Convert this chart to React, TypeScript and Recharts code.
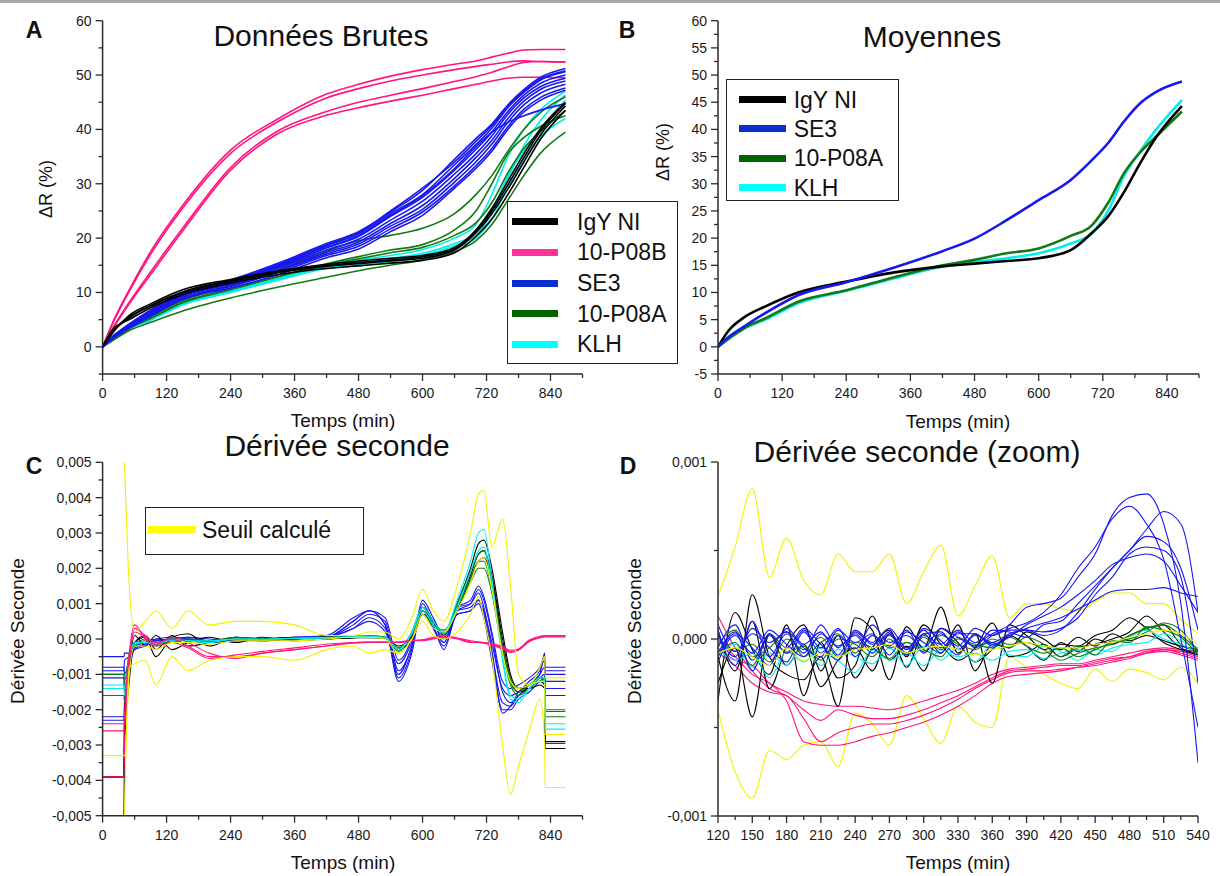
import React from "react";
import { LineChart, Line, XAxis, YAxis } from "recharts";

const FONT = '"Liberation Sans", Arial, Helvetica, sans-serif';
const AXIS = "#2b2b2b";

const BLACK = "#000000";
const PINK = "#ff1480";
const BLUE = "#1717ee";
const GREEN = "#137a13";
const CYAN = "#00eef0";
const YELLOW = "#f2f200";

// ---------- A / B : ΔR (%) vs time ----------
const timeAB = [0, 20, 50, 90, 150, 240, 330, 420, 480, 540, 600, 660, 700, 730, 760, 790, 820, 868];

const rawIgY1 = [0, 3, 5.5, 7.5, 10, 12, 13.7, 14.8, 15.3, 15.8, 16.3, 17.8, 21, 24.5, 29, 34, 38.8, 44.3];
const rawIgY2 = [0, 2.7, 5.8, 7.9, 10.5, 12.4, 14, 15.2, 15.8, 16.3, 16.8, 18.3, 21.5, 25.5, 30.5, 35.5, 40, 45];
const rawIgY3 = [0, 3.3, 5, 7.2, 9.6, 11.7, 13.3, 14.4, 14.9, 15.4, 15.9, 17.3, 20.3, 23.5, 28, 33, 38, 43.5];
const rawIgY4 = [0, 2.9, 5.3, 7.6, 10.1, 12.1, 13.8, 15, 15.5, 16, 16.6, 18, 21.3, 25, 29.8, 34.8, 39.5, 44.8];

const rawP08B1 = [0, 4.7, 10.5, 17.5, 26, 36.2, 42, 46.5, 48.3, 49.8, 51, 52, 52.6, 53.3, 54, 54.6, 54.7, 54.7];
const rawP08B2 = [0, 4.5, 10.2, 17, 25.5, 35.6, 41.5, 45.8, 47.5, 48.9, 50, 51, 51.6, 52, 52.4, 52.6, 52.5, 52.4];
const rawP08B3 = [0, 3.6, 8.2, 13.8, 21.8, 33, 39.8, 43.3, 45, 46.3, 47.5, 48.8, 49.7, 50.5, 51.5, 52.3, 52.5, 52.4];
const rawP08B4 = [0, 3.4, 7.9, 13.3, 21.3, 32.5, 39.3, 42.6, 44, 45.2, 46.3, 47.5, 48.3, 48.9, 49.4, 49.6, 49.6, 49.5];

const rawSE3_1 = [0, 2, 4.2, 6.8, 10, 12.3, 15.4, 19, 21.2, 24.8, 28.8, 34.5, 38.3, 41, 44.5, 47.3, 49.5, 51.2];
const rawSE3_2 = [0, 1.9, 4, 6.6, 9.8, 12, 15, 18.6, 20.8, 24.5, 28, 33.5, 37.2, 40.2, 44, 46.8, 49, 50.6];
const rawSE3_3 = [0, 1.8, 3.9, 6.4, 9.6, 11.9, 14.7, 18.2, 20.3, 24, 27.5, 32.5, 36.3, 39.5, 43.3, 46.3, 48.4, 50];
const rawSE3_4 = [0, 1.8, 3.8, 6.3, 9.5, 11.7, 14.5, 17.8, 19.8, 23.3, 26.8, 31.8, 35.5, 38.8, 42.8, 45.8, 47.8, 49.4];
const rawSE3_5 = [0, 1.7, 3.7, 6.1, 9.3, 11.5, 14.2, 17.4, 19.3, 22.7, 26, 31, 34.8, 38, 42, 45.2, 47.3, 48.9];
const rawSE3_6 = [0, 1.7, 3.6, 6, 9.1, 11.3, 14, 17.1, 18.9, 22.2, 25.3, 30.3, 34, 37.3, 41.3, 44.5, 46.6, 48.3];
const rawSE3_7 = [0, 1.6, 3.5, 5.8, 8.9, 11.1, 13.7, 16.8, 18.5, 21.7, 24.8, 29.6, 33.3, 36.5, 40.5, 43.7, 45.8, 47.6];
const rawSE3_8 = [0, 1.6, 3.4, 5.6, 8.7, 10.8, 13.3, 16.4, 18, 21.2, 24.2, 29.2, 32.8, 36, 40, 43.2, 45.3, 47.2];
const rawSE3_9 = [0, 1.8, 3.9, 6.4, 9.6, 11.9, 14.8, 18.3, 20.5, 24.2, 27.8, 32.8, 36.8, 39.5, 41.3, 42.5, 43.5, 44.7];
const rawSE3_10 = [0, 2, 4.1, 6.7, 9.9, 12.1, 15.2, 18.8, 21, 25, 29.2, 34, 37.8, 40.7, 44.3, 47, 49.2, 50.8];

const rawP08A1 = [0, 1.2, 3, 4.5, 6.6, 9, 11, 12.8, 14, 15, 16, 17.5, 19.5, 22.5, 27, 31.5, 35.5, 39.5];
const rawP08A2 = [0, 1.5, 3.6, 5.6, 8.5, 11.2, 14.2, 17.6, 19.5, 20.5, 21.8, 24.5, 28, 31.5, 36, 40, 43, 46];
const rawP08A3 = [0, 1.4, 3.4, 5.2, 8.1, 10.5, 12.9, 15, 16.2, 17.3, 18.3, 20.5, 22.8, 26.5, 32, 36.5, 39.5, 43.5];
const rawP08A4 = [0, 1.4, 3.5, 5.3, 8.2, 10.6, 13, 15.3, 16.6, 17.8, 18.8, 21.5, 25, 30, 35.5, 38.5, 40.5, 42.5];

const rawKLH1 = [0, 1.5, 3.4, 5.1, 8, 10.3, 12.6, 14.8, 15.6, 16.3, 17.2, 19, 20.9, 25, 31.5, 36, 40, 45.4];
const rawKLH2 = [0, 1.4, 3.3, 4.9, 7.7, 10, 12.3, 14.4, 15.1, 15.7, 16.5, 18.2, 20, 23.5, 29.5, 34.5, 38.5, 42];
const rawKLH3 = [0, 1.5, 3.5, 5.3, 8.2, 10.6, 12.9, 15.1, 16, 16.8, 17.9, 20, 22.5, 28, 35, 40, 43.5, 47];
const rawKLH4 = [0, 1.5, 3.4, 5, 7.9, 10.2, 12.5, 14.6, 15.4, 16, 16.9, 18.6, 20.5, 24.5, 31, 37, 41.5, 46.3];

const meanIgY = [0, 3, 5.5, 7.5, 10, 12, 13.7, 14.8, 15.3, 15.8, 16.3, 17.8, 21, 24, 28.5, 33.8, 38.6, 44.3];
const meanSE3 = [0, 1.8, 3.8, 6.3, 9.5, 11.9, 14.6, 17.6, 19.9, 23.3, 27, 30.7, 34.4, 37.5, 41.5, 44.8, 46.9, 48.8];
const meanP08A = [0, 1.5, 3.5, 5.3, 8.3, 10.4, 12.8, 15, 16, 17.2, 18.1, 20.4, 22.4, 26.5, 32, 35.8, 38.7, 43.3];
const meanKLH = [0, 1.5, 3.4, 5.1, 8, 10.3, 12.6, 14.8, 15.6, 16.3, 17.2, 19, 20.9, 25, 31.5, 36, 40, 45.4];

// ---------- C : second derivative (values in 1e-4) ----------
const timeC = [0, 40, 41, 50, 60, 80, 100, 130, 160, 200, 250, 300, 360, 420, 470, 500, 530, 555, 580, 600, 620, 640, 665, 690, 705, 715, 730, 750, 765, 780, 800, 820, 829, 830, 868];

const cIgY1 = [-50, -50, -31, -12, -1, 0.5, -5, 0.5, 1.5, -2, 0.5, -0.5, 0, 0.5, 0.5, 0.5, 0.2, -3, 0, 8, 5, 1, 10, 20, 27, 28, 20, 2, -10, -14, -14, -13, -14, -29, -29];
const cIgY2 = [-39, -39, -25, -8, 1, -2, 1, -3, -1, 0.5, -1, 0.5, -0.5, 0, 0.3, 0.6, 0.3, -3, 1, 7, 4, 2, 9, 18, 24, 25, 18, 0, -11, -14, -13, -12, -13, -29.5, -29.5];
const cIgY3 = [-39, -39, -20, -6, -1, 1, -3, 1, -2, -1, 0.5, 0, 0.5, 0, 0.4, 0.4, 0.2, -2, 0.5, 7, 5, 1.5, 8, 17, 22, 23, 17, -2, -12, -15, -14, -12, -12, -31, -31];

const cP08B1 = [-24, -24, -24, -6, 3, 1, -1, 0, -2, -5, -5, -4, -3, -2, -1, -1, -1, -1, -0.5, -0.5, 0, 0.5, 0, -1, -1, -1, -1.5, -2.5, -3.5, -3, -0.5, 0.5, 0.8, 0.8, 0.8];
const cP08B2 = [-26, -26, -22, -4, 4, 0, -2, -1, -2.5, -5.5, -4.5, -3.5, -2.5, -1.5, -1, -0.8, -0.8, -1, -0.5, -0.3, 0.2, 0.8, 0.2, -0.8, -1, -1.2, -1.8, -2.8, -3.8, -3.2, -0.8, 0.3, 0.6, 0.6, 0.6];
const cP08B3 = [-39, -39, -30, -7, 2, 0.5, -1.5, 0.5, -1, -4, -5.5, -4, -3, -2, -1.2, -1, -1, -0.8, -0.4, -0.2, 0.5, 1, 0.3, -0.5, -0.8, -1, -1.3, -2.2, -3.2, -2.8, -0.3, 0.8, 1, 1, 1];

const cP08A1 = [-10, -10, -15, -5, -1, -1, -2, 0, -0.5, -1, 0, 0, 0, 0.5, 0.8, 0.8, 0.5, -3, 2, 8, 4, 2, 9, 17, 22, 22, 14, -3, -12, -15, -13, -11, -12, -20, -20];
const cP08A2 = [-16, -16, -18, -6, -2, 0, -1, -1, 0, -0.5, 0.5, -0.3, 0.3, 0.5, 0.6, 0.9, 0.6, -2.5, 1.5, 7, 4, 2.5, 8, 16, 20, 20, 13, -4, -13, -16, -14, -12, -12, -22, -22];
const cP08A3 = [-10, -10, -12, -4, -1, -0.5, -1.5, 0.5, -0.5, -0.8, 0.3, 0.2, 0.2, 0.3, 0.7, 0.7, 0.4, -3.5, 2, 9, 5, 2, 10, 19, 24, 25, 16, -2, -11, -14, -13, -11, -11, -20.5, -20.5];

const cKLH1 = [-14, -14, -16, -5, -1.5, -1, -1, -0.5, -0.5, -0.5, 0, 0, 0.2, 0.4, 0.6, 0.6, 0.4, -3, 2, 9, 5, 2, 11, 22, 30, 31, 17, -6, -17, -18, -14, -11, -11, -24, -24];
const cKLH2 = [-13, -13, -14, -5, -1, -1, -1.5, 0, -0.5, -1, 0, -0.2, 0.2, 0.3, 0.5, 0.7, 0.4, -3, 1.5, 8, 4, 1.5, 9, 19, 25, 26, 15, -5, -16, -17, -14, -12, -12, -25.5, -25.5];

const cSE3_1 = [-5, -5, -4, -4, -2, -1, 0, -1, 0.5, -0.5, -0.3, -0.2, 0.3, 0.5, 4, 7, 5, -9, -2, 9, 5, -1, 8, 9, 11, 8, -1, -14, -16, -15, -12, -9, -6, -8, -8];
const cSE3_2 = [-8, -8, -10, -6, -3, -1.5, -0.5, 0, -0.5, -1, -0.5, -0.5, 0, 0.5, 5, 8, 4, -12, -4, 10, 4, -3, 8, 10, 14, 11, 1, -15, -18, -16, -13, -10, -8, -10, -10];
const cSE3_3 = [-11, -11, -15, -7, -2, -1, -1, -0.5, 0, -0.5, 0, 0, 0.5, 0.8, 3, 6, 3, -10, -2, 8, 3, -2, 7, 8, 11, 7, -4, -18, -19, -16, -14, -11, -10, -12, -12];
const cSE3_4 = [-22, -22, -22, -9, -3, -2, 0, 0.5, 0, -1, -0.5, 0, 0, 0.5, 3, 5, 2, -7, -1, 7, 3, -1, 9, 11, 15, 12, 2, -12, -14, -13, -11, -8, -5, -14, -14];
const cSE3_5 = [-23, -23, -18, -8, -2, -1, -0.5, 0, 0.5, 0, -0.5, -0.3, 0.2, 0.5, 5, 8, 6, -6, 0, 9, 5, 0, 7, 8, 10, 6, -6, -20, -20, -17, -15, -12, -11, -16, -16];
const cSE3_6 = [-9, -9, -6, -5, -2.5, -1.5, -0.5, -1, 0, -0.5, -0.2, 0, 0.5, 1, 6, 8, 4, -11, -3, 11, 6, 1, 9, 10, 13, 9, -3, -21, -19, -15, -13, -10, -4, -9, -9];

const cSeuilMean = [-33, -33, -33, -10, -2, -2, -3, -1, -1, -1.5, -0.5, -0.5, -0.5, 0, 0.5, 0.5, 0, -4, 0, 7, 3, 2, 8, 16, 22, 23, 14, -4, -12, -14, -13, -12, -12, -27, -27];
const cSeuilHigh = [null, null, 50, 15, 2, 5, 8, 3, 8, 4, 5, 5, 4, 1, 1, 2, 2, 0, 6, 14, 8, 5, 15, 30, 41, 42, 26, 34, 15, -10, -13, -8, -5, -11, -11];
const cSeuilLow = [null, null, -50, -8, -7, -6, -13, -5, -9, -6, -5, -5, -6, -3, -2, -4, -3, -4, 0, 5, 1, 0, 2, 7, 12, 6, -5, -30, -44, -36, -26, -17, -29, -42, -42];

// ---------- D : second derivative zoom (values in 1e-4) ----------
const timeD = [120, 135, 150, 165, 180, 195, 210, 225, 240, 255, 270, 285, 300, 315, 330, 345, 360, 375, 390, 405, 420, 435, 450, 465, 480, 495, 510, 525, 540];

const dSeuilHigh = [2.4, 5.2, 8.5, 3.5, 5.7, 3.3, 2.5, 4.8, 3.8, 3.8, 4.8, 2, 3.8, 5.3, 1.3, 3, 4.7, 1.2, 2, 2, 1.7, 1.6, 2.1, 2.6, 2.6, 2, 2, 1.1, 0.3];
const dSeuilLow = [-4, -7.5, -9, -6.3, -6.8, -6, -5.8, -7.2, -4.2, -4.8, -6, -3.2, -4.5, -5.9, -3.8, -4.7, -5, -1, -1.6, -2, -2.5, -2.8, -1.7, -2.4, -1.7, -1.9, -2.3, -1.6, -2.5];
const dSeuilMean = [-0.8, -0.5, -1, -1.5, -0.5, -1.2, -0.8, -1, -0.6, -0.5, -0.3, -0.8, -0.5, -0.4, -0.6, -0.9, -0.6, -0.4, -0.2, -0.4, -0.5, -0.5, -0.3, -0.2, 0.1, 0.3, 0.5, 0.3, -0.3];

const dP08B1 = [0, -1, -2, -2.5, -3.5, -5.8, -6, -6, -5.8, -5.5, -5.3, -5, -4.7, -4.3, -3.8, -3.2, -2.5, -2.1, -2, -1.9, -1.8, -1.6, -1.5, -1.3, -1.1, -0.8, -0.6, -0.7, -1];
const dP08B2 = [1.3, -0.5, -1.8, -2.8, -3.2, -4, -4.6, -4, -4.3, -4.5, -4.5, -4.3, -4, -3.6, -3.2, -2.7, -2.2, -1.8, -1.7, -1.6, -1.5, -1.5, -1.3, -1.1, -1, -0.8, -0.7, -0.9, -1.2];
const dP08B3 = [-0.5, -1.2, -1.5, -2.5, -3, -3.5, -3.7, -3.8, -3.8, -3.9, -4, -3.8, -3.5, -3.2, -2.9, -2.5, -2, -1.7, -1.6, -1.5, -1.4, -1.4, -1.2, -1, -0.8, -0.6, -0.5, -0.6, -0.7];
const dP08B4 = [-0.8, -1.5, -2.5, -3, -3.2, -4.5, -5.8, -5.3, -5, -4.8, -4.8, -4.6, -4.3, -3.9, -3.4, -2.8, -2.3, -1.9, -1.8, -1.8, -1.7, -1.6, -1.4, -1.2, -1, -0.7, -0.6, -0.8, -1.1];

const dIgY1 = [-1, -3.5, 2.5, -1, -2, -2.3, -1, -3.8, 1.2, 0.5, -2.3, 0.7, -0.5, 1.8, -0.8, 0.3, -2.5, 0.8, 0.2, -0.6, -0.3, -0.4, 0.2, 0.5, 1.2, 0.6, -0.2, -0.6, -0.9];
const dIgY2 = [-2.5, -0.5, -4.4, 0.3, -1.5, -0.3, -2.7, -1.2, -0.5, -1.8, 0.3, -1, 0.8, -0.3, -1.2, -0.5, 0.9, -1, -0.8, -0.3, -1, -0.5, -0.3, 0, 0.4, 1.3, 0.4, -0.5, -0.8];
const dIgY3 = [-3.5, 1.5, -0.6, -2, 0.8, -3.2, -0.2, -2.2, -1.5, 1.3, -1.2, -0.4, -1.8, 0.6, -0.2, -1.3, -0.6, 0.2, -0.4, -1.2, -0.2, -0.7, 0, -0.3, 0.2, 0.6, 0.8, -0.3, -0.7];
const dIgY4 = [0.5, -1.8, 1, -2.8, -0.4, 0.8, -1.8, 0.2, -2.2, -0.5, 0.5, -1.6, 0.3, -0.8, 0.8, -1.8, -0.3, -0.5, 0.4, 0, -0.6, 0.1, -0.4, 0.3, -0.1, 0.2, -0.1, -0.4, -0.6];

const dKLH1 = [-0.5, -1.2, -0.8, -2.2, -0.7, -1.3, -0.5, -1.2, -1.9, -0.6, -1.2, -0.8, -1.5, -0.6, -1, -0.8, -1.2, -0.7, -0.6, -1.1, -0.8, -0.6, -0.9, -0.5, -0.3, -0.2, 0.3, -0.1, -0.5];
const dKLH2 = [-1, -0.3, -1.6, -0.8, -1.5, -0.4, -1.5, -0.6, -1, -1.4, -0.5, -1.5, -0.4, -1.2, -0.5, -1.3, -0.3, -0.9, -1, -0.4, -0.7, -1.2, -0.6, -0.7, 0.1, 0.5, 0, -0.3, -0.8];

const dP08A1 = [-0.3, 0.5, -1, -0.5, 0.4, -1, -0.2, 0.3, -0.8, 0.2, -0.5, -0.2, -0.7, 0.2, -0.3, -0.6, 0, -0.3, -0.2, -0.6, -1.2, -0.8, -0.5, -0.3, 0.2, 0.6, 0.8, 0.2, -0.6];
const dP08A2 = [-0.8, -0.2, -1.5, 0.3, -0.8, -0.4, -1.2, 0, -0.3, -1, 0, -0.9, 0.1, -0.6, 0, -0.3, -0.5, 0.1, -0.4, -0.8, -0.5, -1, -0.6, -0.2, 0, 0.4, 0.9, 0.5, -0.7];
const dP08A3 = [0.2, -0.7, -0.3, -1.3, 0, -0.6, 0.1, -1, -0.2, -0.5, -1.1, -0.2, -0.6, -1, 0.1, -0.4, -0.2, -0.5, 0.1, -0.3, -1, -0.4, -0.9, -0.1, -0.2, 0.7, 0.5, 0.1, -0.9];

const dSE3_1 = [0.5, -1.5, 1, -1, 0.3, -0.8, 0.8, -0.5, 0.3, -0.6, 0.4, -0.9, 0.2, -0.3, 0.5, -0.2, 0.3, 0.8, 1.8, 2, 2.3, 3.5, 4.8, 7, 8, 8.2, 6.5, 2, -7];
const dSE3_2 = [-0.5, 0.8, -1.2, 0.2, -0.8, 0.5, -0.5, 0.6, -1, 0.2, -0.4, 0.5, -0.8, 0.3, -0.4, 0.6, 0.2, 0.6, 0.9, 1.5, 2.5, 4, 5.2, 6.8, 7.5, 6.5, 4.5, 0, -5];
const dSE3_3 = [-1, 0.3, -0.5, -1.5, 0.6, -0.3, 0.4, -0.9, 0.5, -0.2, 0.6, -0.5, 0.3, 0.4, -0.6, 0.2, -0.2, 0.3, 0.5, 0.2, 0.5, 1.5, 2.8, 4, 5, 6.2, 7.2, 6.5, 1.5];
const dSE3_4 = [0.8, -0.7, 0.3, -0.5, -1.3, 0.4, -0.8, 0.2, -0.6, 0.8, -0.2, 0.2, -0.5, 0.6, 0.1, -0.4, 0.5, 0.4, 0.1, 0.8, 1, 2, 3, 4, 5, 5.8, 5.5, 4, 0.5];
const dSE3_5 = [-1.3, 0.2, -0.8, 0.5, -0.3, -1, 0.3, -0.4, 0.2, -0.8, 0.3, -0.6, 0.5, -0.5, 0.3, 0.3, -0.4, 0.2, 0.6, 0.9, 1.2, 1.7, 2.2, 2.7, 2.8, 2.8, 2.9, 2.6, 2.4];
const dSE3_6 = [0.2, -1, 0.6, -0.2, 0.4, -0.5, -1, 0.5, -0.2, 0.3, -0.9, 0.4, -0.2, -0.8, 0.4, -0.5, 0.2, 0.5, 0.5, 0.4, 0.6, 1.2, 2.5, 3.5, 4.8, 5.2, 5, 3.5, -2.5];
const dSE3_7 = [-0.8, 0.4, -1.8, 0.3, -0.5, 0.6, -0.3, -1.2, 0.4, -0.3, 0.2, -0.8, 0.6, -0.1, -0.9, 0.3, -0.3, 0.1, 0.8, 1.3, 1.8, 2.5, 3.3, 4.2, 4.6, 4.8, 4.4, 3, 1.5];

// ---------- axes ----------
const xMajorLong = [0, 120, 240, 360, 480, 600, 720, 840];
const xMinorLong = [60, 180, 300, 420, 540, 660, 780, 900];
const yMajorA = [0, 10, 20, 30, 40, 50, 60];
const yMinorA = [-5, 5, 15, 25, 35, 45, 55];
const yMajorB = [-5, 0, 5, 10, 15, 20, 25, 30, 35, 40, 45, 50, 55, 60];
const yMinorB = [-2.5, 2.5, 7.5, 12.5, 17.5, 22.5, 27.5, 32.5, 37.5, 42.5, 47.5, 52.5, 57.5];
const yMajorC = [-0.005, -0.004, -0.003, -0.002, -0.001, 0, 0.001, 0.002, 0.003, 0.004, 0.005];
const yMinorC = [-0.0045, -0.0035, -0.0025, -0.0015, -0.0005, 0.0005, 0.0015, 0.0025, 0.0035, 0.0045];
const xMajorD = [120, 150, 180, 210, 240, 270, 300, 330, 360, 390, 420, 450, 480, 510, 540];
const xMinorD = [135, 165, 195, 225, 255, 285, 315, 345, 375, 405, 435, 465, 495, 525];
const yMajorD = [-0.001, 0, 0.001];
const yMinorD = [-0.0005, 0.0005];

type Series = { key: string; color: string; values: (number | null)[] };

const E4 = 1e-4;

function buildRows(times: number[], series: Series[], scale = 1) {
  return times.map((t, i) => {
    const row: Record<string, number | null> = { t };
    series.forEach((s) => {
      const v = s.values[i];
      row[s.key] = v == null ? null : v * scale;
    });
    return row;
  });
}

const seriesA: Series[] = [
  { key: "p1", color: PINK, values: rawP08B1 },
  { key: "p2", color: PINK, values: rawP08B2 },
  { key: "p3", color: PINK, values: rawP08B3 },
  { key: "p4", color: PINK, values: rawP08B4 },
  { key: "c1", color: CYAN, values: rawKLH1 },
  { key: "c2", color: CYAN, values: rawKLH2 },
  { key: "c3", color: CYAN, values: rawKLH3 },
  { key: "c4", color: CYAN, values: rawKLH4 },
  { key: "g1", color: GREEN, values: rawP08A1 },
  { key: "g2", color: GREEN, values: rawP08A2 },
  { key: "g3", color: GREEN, values: rawP08A3 },
  { key: "g4", color: GREEN, values: rawP08A4 },
  { key: "b1", color: BLUE, values: rawSE3_1 },
  { key: "b2", color: BLUE, values: rawSE3_2 },
  { key: "b3", color: BLUE, values: rawSE3_3 },
  { key: "b4", color: BLUE, values: rawSE3_4 },
  { key: "b5", color: BLUE, values: rawSE3_5 },
  { key: "b6", color: BLUE, values: rawSE3_6 },
  { key: "b7", color: BLUE, values: rawSE3_7 },
  { key: "b8", color: BLUE, values: rawSE3_8 },
  { key: "b9", color: BLUE, values: rawSE3_9 },
  { key: "b10", color: BLUE, values: rawSE3_10 },
  { key: "k1", color: BLACK, values: rawIgY1 },
  { key: "k2", color: BLACK, values: rawIgY2 },
  { key: "k3", color: BLACK, values: rawIgY3 },
  { key: "k4", color: BLACK, values: rawIgY4 },
];

const seriesB: Series[] = [
  { key: "klh", color: CYAN, values: meanKLH },
  { key: "p08a", color: GREEN, values: meanP08A },
  { key: "igy", color: BLACK, values: meanIgY },
  { key: "se3", color: BLUE, values: meanSE3 },
];

const seriesC: Series[] = [
  { key: "b1", color: BLUE, values: cSE3_1 },
  { key: "b2", color: BLUE, values: cSE3_2 },
  { key: "b3", color: BLUE, values: cSE3_3 },
  { key: "b4", color: BLUE, values: cSE3_4 },
  { key: "b5", color: BLUE, values: cSE3_5 },
  { key: "b6", color: BLUE, values: cSE3_6 },
  { key: "k1", color: BLACK, values: cIgY1 },
  { key: "k2", color: BLACK, values: cIgY2 },
  { key: "k3", color: BLACK, values: cIgY3 },
  { key: "g1", color: GREEN, values: cP08A1 },
  { key: "g2", color: GREEN, values: cP08A2 },
  { key: "g3", color: GREEN, values: cP08A3 },
  { key: "c1", color: CYAN, values: cKLH1 },
  { key: "c2", color: CYAN, values: cKLH2 },
  { key: "p1", color: PINK, values: cP08B1 },
  { key: "p2", color: PINK, values: cP08B2 },
  { key: "p3", color: PINK, values: cP08B3 },
  { key: "yh", color: YELLOW, values: cSeuilHigh },
  { key: "yl", color: YELLOW, values: cSeuilLow },
  { key: "ym", color: YELLOW, values: cSeuilMean },
];

const seriesD: Series[] = [
  { key: "yh", color: YELLOW, values: dSeuilHigh },
  { key: "yl", color: YELLOW, values: dSeuilLow },
  { key: "p1", color: PINK, values: dP08B1 },
  { key: "p2", color: PINK, values: dP08B2 },
  { key: "p3", color: PINK, values: dP08B3 },
  { key: "p4", color: PINK, values: dP08B4 },
  { key: "k1", color: BLACK, values: dIgY1 },
  { key: "k2", color: BLACK, values: dIgY2 },
  { key: "k3", color: BLACK, values: dIgY3 },
  { key: "k4", color: BLACK, values: dIgY4 },
  { key: "c1", color: CYAN, values: dKLH1 },
  { key: "c2", color: CYAN, values: dKLH2 },
  { key: "g1", color: GREEN, values: dP08A1 },
  { key: "g2", color: GREEN, values: dP08A2 },
  { key: "g3", color: GREEN, values: dP08A3 },
  { key: "b1", color: BLUE, values: dSE3_1 },
  { key: "b2", color: BLUE, values: dSE3_2 },
  { key: "b3", color: BLUE, values: dSE3_3 },
  { key: "b4", color: BLUE, values: dSE3_4 },
  { key: "b5", color: BLUE, values: dSE3_5 },
  { key: "b6", color: BLUE, values: dSE3_6 },
  { key: "b7", color: BLUE, values: dSE3_7 },
  { key: "ym", color: YELLOW, values: dSeuilMean },
];

const rowsA = buildRows(timeAB, seriesA);
const rowsB = buildRows(timeAB, seriesB);
const rowsC = buildRows(timeC, seriesC, E4);
const rowsD = buildRows(timeD, seriesD, E4);

const plain = (v: number) => String(v);
const comma = (v: number) => v.toFixed(3).replace(".", ",");

const xTick = (majors: number[], fmt: (v: number) => string) => (p: any) => {
  const v = p.payload.value;
  const major = majors.includes(v);
  return (
    <g>
      <line x1={p.x} x2={p.x} y1={p.y} y2={p.y + (major ? 7 : 4)} stroke={AXIS} strokeWidth={1.3} />
      {major && (
        <text x={p.x} y={p.y + 19} textAnchor="middle" dominantBaseline="central" fontSize={14} fontFamily={FONT} fill="#1a1a1a">
          {fmt(v)}
        </text>
      )}
    </g>
  );
};

const yTick = (majors: number[], fmt: (v: number) => string) => (p: any) => {
  const v = p.payload.value;
  const major = majors.includes(v);
  return (
    <g>
      <line x1={p.x - (major ? 7 : 4)} x2={p.x} y1={p.y} y2={p.y} stroke={AXIS} strokeWidth={1.3} />
      {major && (
        <text x={p.x - 11} y={p.y} textAnchor="end" dominantBaseline="central" fontSize={14} fontFamily={FONT} fill="#1a1a1a">
          {fmt(v)}
        </text>
      )}
    </g>
  );
};

type PanelProps = {
  left: number;
  top: number;
  width: number;
  height: number;
  rows: Record<string, number | null>[];
  series: Series[];
  xDomain: [number, number];
  xMajor: number[];
  xMinor: number[];
  yDomain: [number, number];
  yMajor: number[];
  yMinor: number[];
  yFmt: (v: number) => string;
  yAxisWidth: number;
  xAxisHeight: number;
  marginTop: number;
  marginRight: number;
  lineWidth: number;
};

function Panel(props: PanelProps) {
  const { left, top, width, height, rows, series, xDomain, xMajor, xMinor, yDomain, yMajor, yMinor, yFmt } = props;
  return (
    <div style={{ position: "absolute", left, top, width, height }}>
      <LineChart
        width={width}
        height={height}
        data={rows}
        margin={{ top: props.marginTop, right: props.marginRight, bottom: 0, left: 0 }}
      >
        <XAxis
          dataKey="t"
          type="number"
          domain={xDomain}
          ticks={[...xMajor, ...xMinor].sort((a, b) => a - b)}
          interval={0}
          height={props.xAxisHeight}
          tickSize={0}
          tickMargin={0}
          tickLine={false}
          axisLine={{ stroke: AXIS, strokeWidth: 1.5 }}
          tick={xTick(xMajor, plain)}
          allowDataOverflow
        />
        <YAxis
          type="number"
          domain={yDomain}
          ticks={[...yMajor, ...yMinor].sort((a, b) => a - b)}
          interval={0}
          width={props.yAxisWidth}
          tickSize={0}
          tickMargin={0}
          tickLine={false}
          axisLine={{ stroke: AXIS, strokeWidth: 1.5 }}
          tick={yTick(yMajor, yFmt)}
          allowDataOverflow
        />
        {series.map((s) => (
          <Line
            key={s.key}
            dataKey={s.key}
            type="monotone"
            stroke={s.color}
            strokeWidth={props.lineWidth}
            dot={false}
            activeDot={false}
            isAnimationActive={false}
          />
        ))}
      </LineChart>
    </div>
  );
}

const Txt = ({ x, y, size, bold, rotate, children }: { x: number; y: number; size: number; bold?: boolean; rotate?: boolean; children: React.ReactNode }) => (
  <div
    style={{
      position: "absolute",
      left: x,
      top: y,
      transform: `translate(-50%, -50%)${rotate ? " rotate(-90deg)" : ""}`,
      fontSize: size,
      fontWeight: bold ? 700 : 400,
      fontFamily: FONT,
      whiteSpace: "nowrap",
      lineHeight: 1,
      color: "#111",
    }}
  >
    {children}
  </div>
);

type LegendItem = { label: string; color: string };

const legendA: LegendItem[] = [
  { label: "IgY NI", color: "#000000" },
  { label: "10-P08B", color: "#ff3399" },
  { label: "SE3", color: "#0a2fcc" },
  { label: "10-P08A", color: "#006400" },
  { label: "KLH", color: "#00ffff" },
];
const legendB: LegendItem[] = [
  { label: "IgY NI", color: "#000000" },
  { label: "SE3", color: "#0a2fcc" },
  { label: "10-P08A", color: "#006400" },
  { label: "KLH", color: "#00ffff" },
];
const legendC: LegendItem[] = [{ label: "Seuil calculé", color: "#ffff00" }];

function LegendBox({ left, top, width, height, items, first, step, lineX, lineW, textX }: {
  left: number; top: number; width: number; height: number; items: LegendItem[];
  first: number; step: number; lineX: number; lineW: number; textX: number;
}) {
  return (
    <div style={{ position: "absolute", left, top, width, height, border: "1.5px solid #222", boxSizing: "border-box", background: "#fff" }}>
      {items.map((it, i) => (
        <div key={it.label} style={{ position: "absolute", left: 0, top: first + i * step, width: "100%" }}>
          <div style={{ position: "absolute", left: lineX, top: -3.5, width: lineW, height: 7, background: it.color }} />
          <div style={{ position: "absolute", left: textX, top: -12, fontSize: 23, lineHeight: "24px", fontFamily: FONT, color: "#111", whiteSpace: "nowrap" }}>
            {it.label}
          </div>
        </div>
      ))}
    </div>
  );
}

export default function App() {
  return (
    <div style={{ position: "absolute", left: 0, top: 0, width: 1220, height: 876, background: "#fff", overflow: "hidden", fontFamily: FONT }}>
      <div style={{ position: "absolute", left: 0, top: 0, width: 1220, height: 3, background: "#a9a9a9" }} />

      <Panel left={0} top={0} width={600} height={440} rows={rowsA} series={seriesA}
        xDomain={[0, 900]} xMajor={xMajorLong} xMinor={xMinorLong}
        yDomain={[-5, 60]} yMajor={yMajorA} yMinor={yMinorA} yFmt={plain}
        yAxisWidth={102.6} xAxisHeight={66} marginTop={20.7} marginRight={17.5} lineWidth={1.6} />

      <Panel left={610} top={0} width={610} height={440} rows={rowsB} series={seriesB}
        xDomain={[0, 900]} xMajor={xMajorLong} xMinor={xMinorLong}
        yDomain={[-5, 60]} yMajor={yMajorB} yMinor={yMinorB} yFmt={plain}
        yAxisWidth={108} xAxisHeight={66} marginTop={20.7} marginRight={21} lineWidth={2.6} />

      <Panel left={0} top={440} width={600} height={436} rows={rowsC} series={seriesC}
        xDomain={[0, 900]} xMajor={xMajorLong} xMinor={xMinorLong}
        yDomain={[-0.005, 0.005]} yMajor={yMajorC} yMinor={yMinorC} yFmt={comma}
        yAxisWidth={102.6} xAxisHeight={60.3} marginTop={22.3} marginRight={17.5} lineWidth={1.1} />

      <Panel left={610} top={440} width={610} height={436} rows={rowsD} series={seriesD}
        xDomain={[120, 540]} xMajor={xMajorD} xMinor={xMinorD}
        yDomain={[-0.001, 0.001]} yMajor={yMajorD} yMinor={yMinorD} yFmt={comma}
        yAxisWidth={108} xAxisHeight={60} marginTop={22} marginRight={22} lineWidth={1.1} />

      <Txt x={34} y={30} size={23} bold>A</Txt>
      <Txt x={627} y={30} size={23} bold>B</Txt>
      <Txt x={34} y={466} size={23} bold>C</Txt>
      <Txt x={628} y={466} size={23} bold>D</Txt>

      <Txt x={321} y={36} size={30}>Données Brutes</Txt>
      <Txt x={932} y={37} size={30}>Moyennes</Txt>
      <Txt x={337} y={446} size={30}>Dérivée seconde</Txt>
      <Txt x={917} y={452} size={30}>Dérivée seconde (zoom)</Txt>

      <Txt x={46} y={189} size={18} rotate>ΔR (%)</Txt>
      <Txt x={663} y={152} size={18} rotate>ΔR (%)</Txt>
      <Txt x={17} y={631} size={19} rotate>Dérivée Seconde</Txt>
      <Txt x={634} y={631} size={19} rotate>Dérivée Seconde</Txt>

      <Txt x={343} y={420} size={19}>Temps (min)</Txt>
      <Txt x={958} y={421} size={19}>Temps (min)</Txt>
      <Txt x={343} y={862} size={19}>Temps (min)</Txt>
      <Txt x={958} y={862} size={19}>Temps (min)</Txt>

      <LegendBox left={507} top={200.7} width={171} height={163.3} items={legendA}
        first={20} step={30.7} lineX={4} lineW={46} textX={69} />
      <LegendBox left={725.7} top={79} width={173} height={122} items={legendB}
        first={19.5} step={29.4} lineX={12} lineW={47} textX={67} />
      <LegendBox left={145} top={507} width={219} height={48} items={legendC}
        first={21.5} step={0} lineX={2} lineW={48} textX={56} />
    </div>
  );
}
